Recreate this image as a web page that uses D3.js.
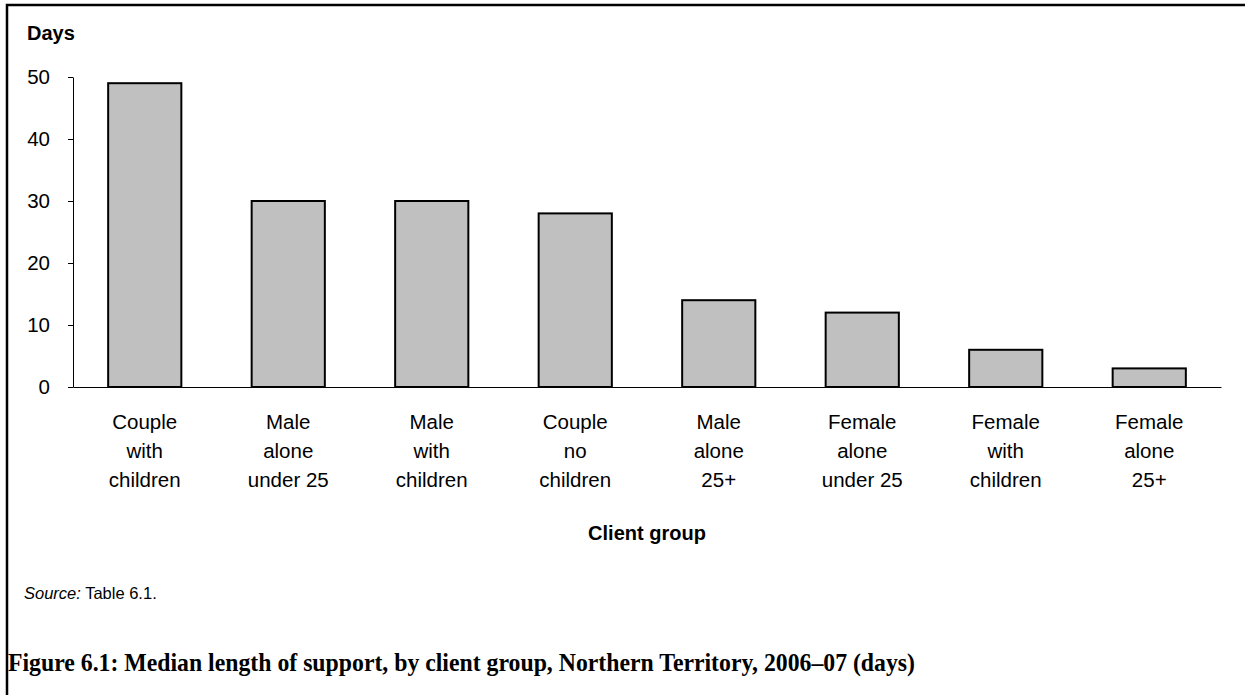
<!DOCTYPE html>
<html>
<head>
<meta charset="utf-8">
<script src="https://cdn.jsdelivr.net/npm/d3@7"></script>
<style>
  html, body { margin: 0; padding: 0; background: #fff; }
  svg { display: block; }
</style>
</head>
<body>
<svg id="chart" width="1245" height="695"></svg>
<script>
// ---- Data ----
const categories = [
  ["Couple", "with", "children"],
  ["Male", "alone", "under 25"],
  ["Male", "with", "children"],
  ["Couple", "no", "children"],
  ["Male", "alone", "25+"],
  ["Female", "alone", "under 25"],
  ["Female", "with", "children"],
  ["Female", "alone", "25+"]
];
const values = [49, 30, 30, 28, 14, 12, 6, 3];
const yTicks = [0, 10, 20, 30, 40, 50];
const yAxisTitle = "Days";
const xAxisTitle = "Client group";
const sourceLabel = "Source:";
const sourceText = " Table 6.1.";
const figureTitle = "Figure 6.1: Median length of support, by client group, Northern Territory, 2006\u201307 (days)";

(function () {
// ---- Layout ----
const svg = d3.select("#chart");
const pLeft = 73, pRight = 1221, pTop = 77, pBottom = 387;
const sans = "Arial, 'Liberation Sans', sans-serif";

// frame (top and left rule)
svg.append("path")
  .attr("d", `M7,695 L7,5 L1245,5`)
  .attr("fill", "none").attr("stroke", "#000").attr("stroke-width", 2.5);

const keys = categories.map((c, i) => i);
const x = d3.scaleBand().domain(keys).range([pLeft, pRight]).paddingInner(0.49).paddingOuter(0.245);
const y = d3.scaleLinear().domain([0, 50]).range([pBottom, pTop]);

// y axis
const yAxis = svg.append("g").attr("transform", `translate(${pLeft},0)`)
  .call(d3.axisLeft(y).tickValues(yTicks).tickSize(5).tickPadding(18).tickSizeOuter(0));
yAxis.select(".domain").attr("stroke", "#000").attr("stroke-width", 1);
yAxis.selectAll(".tick line").attr("stroke", "#000");
yAxis.selectAll(".tick text").attr("font-family", sans).attr("font-size", 20.5).attr("fill", "#000");

// x axis baseline
svg.append("g").attr("transform", `translate(0,${pBottom})`)
  .call(d3.axisBottom(x).tickSize(0).tickFormat(""))
  .call(g => g.select(".domain").attr("stroke", "#000").attr("stroke-width", 1.2));

// bars
svg.append("g").selectAll("rect").data(values).join("rect")
  .attr("x", (d, i) => x(i))
  .attr("y", d => y(d))
  .attr("width", x.bandwidth())
  .attr("height", d => y(0) - y(d))
  .attr("fill", "#c0c0c0")
  .attr("stroke", "#000")
  .attr("stroke-width", 2);

// category labels
const lab = svg.append("g").selectAll("text").data(categories).join("text")
  .attr("x", (d, i) => x(i) + x.bandwidth() / 2)
  .attr("y", 429)
  .attr("text-anchor", "middle")
  .attr("font-family", sans).attr("font-size", 20.5).attr("fill", "#000");
lab.selectAll("tspan").data(d => d).join("tspan")
  .attr("x", function () { return d3.select(this.parentNode).attr("x"); })
  .attr("dy", (d, i) => i === 0 ? 0 : 29)
  .text(d => d);

// axis titles
svg.append("text").attr("x", 27).attr("y", 40)
  .attr("font-family", sans).attr("font-weight", "bold").attr("font-size", 20)
  .text(yAxisTitle);
svg.append("text").attr("x", (pLeft + pRight) / 2).attr("y", 540)
  .attr("text-anchor", "middle")
  .attr("font-family", sans).attr("font-weight", "bold").attr("font-size", 20)
  .text(xAxisTitle);

// source
const src = svg.append("text").attr("x", 24).attr("y", 599)
  .attr("font-family", sans).attr("font-size", 16.5);
src.append("tspan").attr("font-style", "italic").text(sourceLabel);
src.append("tspan").text(sourceText);

// figure title
const t = svg.append("text").attr("x", 8).attr("y", 671)
  .attr("font-family", "'Liberation Serif', 'Times New Roman', serif")
  .attr("font-weight", "bold").attr("font-size", 25)
  .text(figureTitle);
t.attr("textLength", 907).attr("lengthAdjust", "spacingAndGlyphs");
})();
</script>
</body>
</html>
